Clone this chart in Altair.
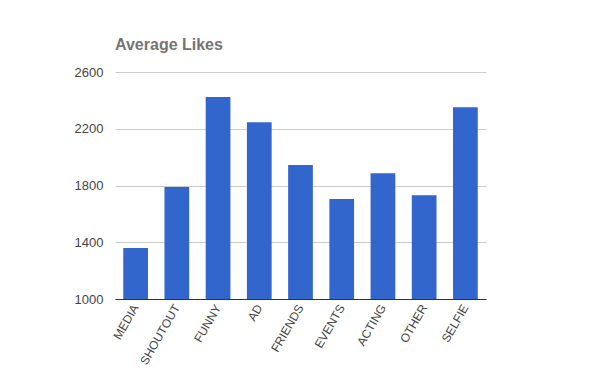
import altair as alt
import pandas as pd

categories = ["MEDIA", "SHOUTOUT", "FUNNY", "AD", "FRIENDS", "EVENTS", "ACTING", "OTHER", "SELFIE"]
likes = [1360, 1790, 2423, 2246, 1944, 1704, 1887, 1732, 2352]
y_ticks = [1000, 1400, 1800, 2200, 2600]

df = pd.DataFrame({"category": categories, "likes": likes})

chart = alt.Chart(df).mark_bar(color="#3366cc").encode(
    x=alt.X("category:N", sort=categories,
            scale=alt.Scale(paddingInner=0.4, paddingOuter=0.2),
            axis=alt.Axis(title=None, labelAngle=-60, labelAlign="right", labelBaseline="middle",
                          labelFont="Liberation Sans", labelFontSize=12, labelColor="#444444",
                          ticks=False, labelPadding=6, domainColor="#333333", domainWidth=1,
                          grid=False)),
    y=alt.Y("likes:Q", scale=alt.Scale(domain=[1000, 2600], nice=False, zero=False),
            axis=alt.Axis(title=None, values=y_ticks, format="d", labelFont="Liberation Sans",
                          labelFontSize=13, labelColor="#444444", ticks=False, domain=False,
                          labelPadding=12, gridColor="#cccccc", gridWidth=1)),
    y2=alt.datum(1000),
).properties(
    width=371,
    height=227,
    title=alt.TitleParams("Average Likes", anchor="start", frame="group", font="Liberation Sans",
                          fontSize=16, fontWeight="bold", color="#757575", offset=13),
    padding={"left": 107, "top": 64, "right": 100, "bottom": 70},
    autosize=alt.AutoSizeParams(type="none"),
).configure_view(stroke=None)

chart.save("out.html", embed_options={"renderer": "svg", "actions": False})
